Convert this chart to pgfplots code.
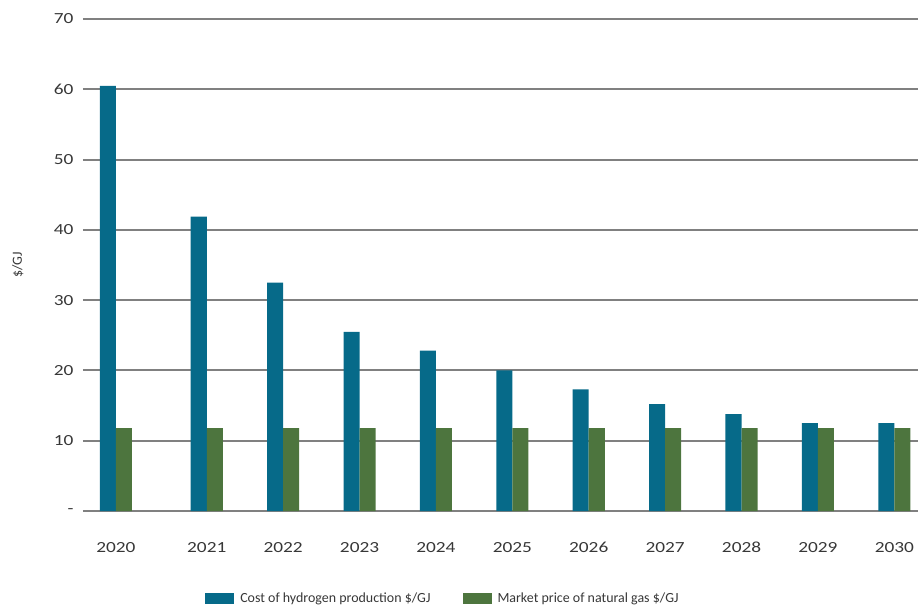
\documentclass[border=0pt]{standalone}
\usepackage{pgfplots}
\pgfplotsset{compat=1.18}
\usepackage{fontspec}
\setmainfont{Carlito}
\newfontfamily\tickfont[FakeStretch=1.25]{Carlito}
\definecolor{hblue}{RGB}{6,106,137}
\definecolor{ggreen}{RGB}{77,117,62}
\definecolor{gridc}{RGB}{128,128,128}
\definecolor{txt}{RGB}{55,55,55}
\begin{document}
\begin{tikzpicture}
\useasboundingbox (-83bp,-99bp) rectangle (835bp,511bp);
\begin{axis}[
  at={(0,0)}, anchor=south west,
  scale only axis, width=835bp, height=492bp,
  ybar, bar width=0.21,
  xmin=-0.43, xmax=10.5, ymin=0, ymax=70,
  xtick={0,1.19,2.19,3.19,4.19,5.19,6.19,7.19,8.19,9.19,10.19},
  xticklabels={2020,2021,2022,2023,2024,2025,2026,2027,2028,2029,2030},
  ytick={0,10,20,30,40,50,60,70},
  yticklabels={-,10,20,30,40,50,60,70},
  axis line style={draw=none},
  major tick length=0pt,
  ymajorgrids, grid style={gridc, line width=2bp},
  xticklabel style={font=\tickfont\fontsize{15.5}{17}\selectfont, text=txt, yshift=-41bp, anchor=base},
  yticklabel style={font=\tickfont\fontsize{15.5}{17}\selectfont, text=txt, xshift=-6bp},
  ylabel={\$/GJ},
  ylabel style={at={(axis description cs:-0.078,0.5)}, anchor=center, font=\fontsize{14}{16}\selectfont, text=txt},
  legend style={at={(axis description cs:0.431,-0.177)}, anchor=center, draw=none, legend columns=2,
    font=\fontsize{14}{16}\selectfont, text=txt,
    /tikz/every odd column/.append style={column sep=4bp},
    /tikz/every even column/.append style={column sep=30bp}},
  legend image code/.code={\fill[#1] (0bp,-5.5bp) rectangle (29bp,5.5bp);},
  clip=false,
]
\addplot[fill=hblue, draw=none, bar shift=-0.105] coordinates {
 (0,60.5) (1.19,41.9) (2.19,32.5) (3.19,25.5) (4.19,22.8) (5.19,20.0) (6.19,17.3) (7.19,15.2) (8.19,13.8) (9.19,12.5) (10.19,12.5)};
\addplot[fill=ggreen, draw=none, bar shift=0.105] coordinates {
 (0,11.8) (1.19,11.8) (2.19,11.8) (3.19,11.8) (4.19,11.8) (5.19,11.8) (6.19,11.8) (7.19,11.8) (8.19,11.8) (9.19,11.8) (10.19,11.8)};
\legend{Cost of hydrogen production \$/GJ, Market price of natural gas \$/GJ}
\end{axis}
\end{tikzpicture}
\end{document}
